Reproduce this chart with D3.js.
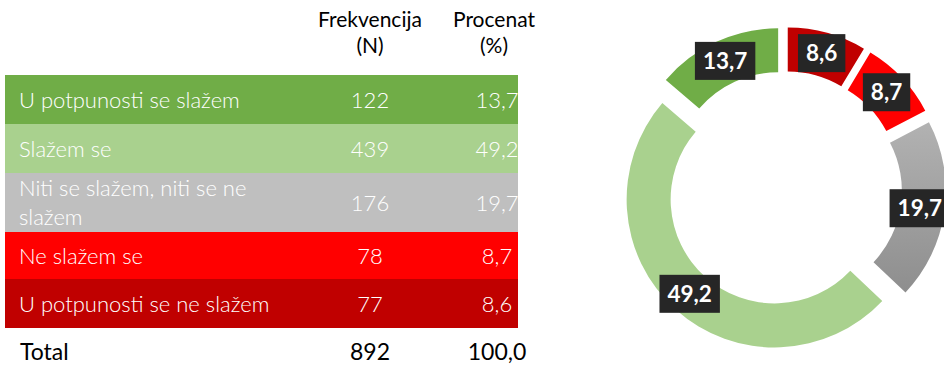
<!DOCTYPE html>
<html>
<head>
<meta charset="utf-8">
<script src="https://cdn.jsdelivr.net/npm/d3@7"></script>
<style>
  html, body { margin: 0; padding: 0; background: #fff; }
  svg { display: block; }
</style>
</head>
<body>
<svg id="chart" width="944" height="367"></svg>
<script>
// ---- data ----
const categories = [
  "U potpunosti se slažem",
  "Slažem se",
  "Niti se slažem, niti se ne slažem",
  "Ne slažem se",
  "U potpunosti se ne slažem"
];
const frequencies = [122, 439, 176, 78, 77];
const percents = [13.7, 49.2, 19.7, 8.7, 8.6];
const colors = ["#70AD47", "#A9D18E", "#BFBFBF", "#FF0000", "#C00000"];
const headerFreq = ["Frekvencija", "(N)"];
const headerPct = ["Procenat", "(%)"];
const totalLabel = "Total";
const totalFreq = 892;
const totalPct = 100.0;

const fmt = v => d3.format(".1f")(v).replace(".", ",");

const W = 944;
const svg = d3.select("#chart");
const FONT = "Lato, 'Open Sans', sans-serif";

// ---- table ----
const tableX = 5, tableW = 513;
const labelX = 19, freqX = 370, pctX = 497, headPctX = 494;
const rowHeights = [49, 49, 59, 47, 49];
const rowFont = 22;
let y0 = 75;
const rowTops = rowHeights.map(h => { const t = y0; y0 += h; return t; });

const hdr = svg.append("g").attr("font-family", FONT).attr("font-size", 21).attr("fill", "#000").attr("text-anchor", "middle");
headerFreq.forEach((t, i) => hdr.append("text").attr("x", freqX).attr("y", 27 + i * 26).text(t));
headerPct.forEach((t, i) => hdr.append("text").attr("x", headPctX).attr("y", 27 + i * 26).text(t));

const rows = svg.append("g").selectAll("g").data(categories).join("g")
  .attr("transform", (d, i) => `translate(0,${rowTops[i]})`);

rows.append("rect")
  .attr("x", tableX).attr("y", 0).attr("width", tableW)
  .attr("height", (d, i) => rowHeights[i])
  .attr("fill", (d, i) => colors[i]);

rows.each(function (d, i) {
  const g = d3.select(this);
  const h = rowHeights[i];
  const txt = g.append("text").attr("font-family", FONT).attr("font-weight", 300)
    .attr("font-size", rowFont).attr("fill", "#fff").attr("x", labelX);
  const words = d.split(" ");
  const lines = [];
  let cur = "";
  const probe = g.append("text").attr("font-family", FONT).attr("font-weight", 300).attr("font-size", rowFont).attr("visibility", "hidden");
  words.forEach(w => {
    const test = cur ? cur + " " + w : w;
    probe.text(test);
    if (probe.node().getComputedTextLength() > 268 && cur) { lines.push(cur); cur = w; }
    else cur = test;
  });
  lines.push(cur);
  probe.remove();
  const lh = 29;
  const base = h / 2 + 8 - (lines.length - 1) * lh / 2;
  lines.forEach((l, k) => txt.append("tspan").attr("x", labelX).attr("y", base + k * lh).text(l));

  g.append("text").attr("font-family", FONT).attr("font-weight", 300).attr("font-size", rowFont)
    .attr("fill", "#fff").attr("text-anchor", "middle")
    .attr("x", freqX).attr("y", h / 2 + 8).text(frequencies[i]);
  g.append("text").attr("font-family", FONT).attr("font-weight", 300).attr("font-size", rowFont)
    .attr("fill", "#fff").attr("text-anchor", "middle")
    .attr("x", pctX).attr("y", h / 2 + 8).text(fmt(percents[i]));
});

const tot = svg.append("g").attr("font-family", FONT).attr("font-size", 23).attr("fill", "#000");
tot.append("text").attr("x", 20).attr("y", 360).text(totalLabel);
tot.append("text").attr("x", freqX).attr("y", 360).attr("text-anchor", "middle").text(totalFreq);
tot.append("text").attr("x", pctX).attr("y", 360).attr("text-anchor", "middle").text(fmt(totalPct));

// ---- donut ----
const defs = svg.append("defs");
const grad = defs.append("linearGradient").attr("id", "grayGrad")
  .attr("x1", 0).attr("y1", 0).attr("x2", 0).attr("y2", 1);
grad.append("stop").attr("offset", "0%").attr("stop-color", "#B2B2B2");
grad.append("stop").attr("offset", "100%").attr("stop-color", "#8E8E8E");

const cx = 784, cy = 189, rOuter = 148, rInner = 104, explode = 14, labelR = 141;
const donutData = d3.range(categories.length).reverse().map(i => ({
  cat: categories[i], value: percents[i], color: colors[i], idx: i
}));
const pie = d3.pie().value(d => d.value).sort(null).startAngle(0).endAngle(2 * Math.PI);
const arcs = pie(donutData);
const arc = d3.arc().innerRadius(rInner).outerRadius(rOuter);

const dg = svg.append("g").attr("transform", `translate(${cx},${cy})`);
dg.selectAll("path").data(arcs).join("path")
  .attr("d", arc)
  .attr("fill", d => d.data.idx === 2 ? "url(#grayGrad)" : d.data.color)
  .attr("transform", d => {
    const a = (d.startAngle + d.endAngle) / 2;
    return `translate(${explode * Math.sin(a)},${-explode * Math.cos(a)})`;
  });

const lg = svg.append("g");
arcs.forEach(d => {
  const a = (d.startAngle + d.endAngle) / 2;
  const g = lg.append("g");
  const t = g.append("text").attr("font-family", FONT).attr("font-weight", 700)
    .attr("font-size", 22.5).attr("fill", "#fff").attr("text-anchor", "middle")
    .attr("y", 8).text(fmt(d.data.value));
  const w = t.node().getComputedTextLength();
  g.insert("rect", "text").attr("x", -w / 2 - 8).attr("y", -19)
    .attr("width", w + 16).attr("height", 38).attr("fill", "#262626");
  // keep the label text inside the picture; the box may run past the edge
  const lx = Math.min(cx + labelR * Math.sin(a), W - w / 2 - 2);
  const ly = cy - labelR * Math.cos(a);
  g.attr("transform", `translate(${lx},${ly})`);
});
</script>
</body>
</html>
